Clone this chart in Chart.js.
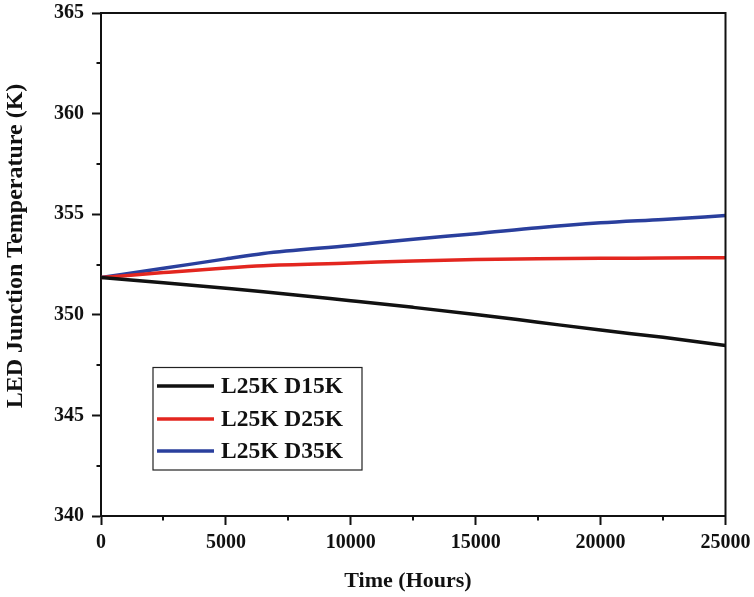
<!DOCTYPE html>
<html><head><meta charset="utf-8">
<script src="https://cdn.jsdelivr.net/npm/chart.js@4.4.0/dist/chart.umd.min.js"></script>
<style>html,body{margin:0;padding:0;background:#fff;}#wrap{width:754px;height:597px;position:relative}</style>
</head><body><div id="wrap"><canvas id="c" width="754" height="597"></canvas></div>
<script>
const hours = [0, 2500, 5000, 6500, 10000, 12500, 15000, 17500, 20000, 22500, 25000];
const seriesNames = ['L25K D15K', 'L25K D25K', 'L25K D35K'];
const d15 = [351.85, 351.59, 351.32, 351.15, 350.70, 350.37, 350.02, 349.63, 349.24, 348.88, 348.47];
const d25 = [351.85, 352.10, 352.33, 352.44, 352.57, 352.68, 352.75, 352.79, 352.81, 352.82, 352.84];
const d35 = [351.85, 352.31, 352.78, 353.05, 353.45, 353.76, 354.03, 354.33, 354.57, 354.74, 354.93];
const xTicks = [0, 5000, 10000, 15000, 20000, 25000];
const yTicks = [340, 345, 350, 355, 360, 365];
const xMinor = [2500, 7500, 12500, 17500, 22500];
const yMinor = [342.5, 347.5, 352.5, 357.5, 362.5];
const xTitle = 'Time (Hours)';
const yTitle = 'LED Junction Temperature (K)';
const colors = ['#111111', '#e3261f', '#2a3f9d'];

const FONT = '"Liberation Serif", "Times New Roman", serif';
const seriesData = [d15, d25, d35];

const decorPlugin = {
  id: 'decor',
  afterDraw(chart) {
    const ctx = chart.ctx;
    const a = chart.chartArea;
    const xs = chart.scales.x, ys = chart.scales.y;
    ctx.save();
    ctx.strokeStyle = '#111';
    ctx.lineWidth = 2;
    ctx.beginPath();
    ctx.moveTo(a.left - 1, a.top); ctx.lineTo(a.right, a.top); ctx.lineTo(a.right, a.bottom + 1);
    ctx.stroke();
    ctx.beginPath();
    xMinor.forEach(v => { const p = Math.round(xs.getPixelForValue(v)); ctx.moveTo(p, a.bottom); ctx.lineTo(p, a.bottom + 4.5); });
    yMinor.forEach(v => { const p = Math.round(ys.getPixelForValue(v)); ctx.moveTo(a.left, p); ctx.lineTo(a.left - 4.5, p); });
    ctx.stroke();
    ctx.fillStyle = '#111';
    ctx.textAlign = 'center';
    ctx.textBaseline = 'middle';
    ctx.font = 'bold 22px ' + FONT;
    ctx.fillText(xTitle, 408, 581);
    ctx.save();
    ctx.font = 'bold 24px ' + FONT;
    ctx.translate(16, 246);
    ctx.rotate(-Math.PI / 2);
    ctx.fillText(yTitle, 0, 0);
    ctx.restore();
    const bx = 153, by = 367.5, bw = 209, bh = 102.5;
    ctx.lineWidth = 1.2;
    ctx.strokeStyle = '#222';
    ctx.strokeRect(bx, by, bw, bh);
    ctx.textAlign = 'left';
    ctx.font = 'bold 23.5px ' + FONT;
    const rows = [386, 419, 451];
    chart.data.datasets.forEach((ds, i) => {
      ctx.strokeStyle = ds.borderColor;
      ctx.lineWidth = 3.5;
      ctx.beginPath();
      ctx.moveTo(157, rows[i]); ctx.lineTo(214, rows[i]);
      ctx.stroke();
      ctx.fillStyle = '#111';
      ctx.fillText(ds.label, 221, rows[i] + 1);
    });
    ctx.restore();
  }
};

new Chart(document.getElementById('c'), {
  type: 'line',
  data: {
    datasets: seriesNames.map((name, i) => ({
      label: name,
      data: hours.map((h, j) => ({ x: h, y: seriesData[i][j] })),
      borderColor: colors[i],
      backgroundColor: colors[i],
      borderWidth: 3.5,
      pointRadius: 0,
      cubicInterpolationMode: 'monotone',
      fill: false
    }))
  },
  options: {
    responsive: false,
    animation: false,
    devicePixelRatio: 1,
    layout: { padding: { top: 13, right: 28.5, left: 0, bottom: 0 } },
    plugins: { legend: { display: false }, tooltip: { enabled: false } },
    scales: {
      x: {
        type: 'linear', min: 0, max: 25000,
        afterBuildTicks: s => { s.ticks = xTicks.map(v => ({ value: v })); },
        afterFit: s => { s.height = 81; s.paddingLeft = 0; s.paddingRight = 0; },
        ticks: { color: '#111', font: { family: FONT, size: 20, weight: 'bold' }, padding: 6, maxRotation: 0, autoSkip: false, callback: v => String(v) },
        grid: { drawOnChartArea: false, drawTicks: true, tickLength: 9, tickWidth: 2, tickColor: '#111' },
        border: { display: true, width: 2, color: '#111' },
        title: { display: false }
      },
      y: {
        type: 'linear', min: 340, max: 365,
        afterBuildTicks: s => { s.ticks = yTicks.map(v => ({ value: v })); },
        afterFit: s => { s.width = 101; s.paddingTop = 0; s.paddingBottom = 0; },
        ticks: { color: '#111', font: { family: FONT, size: 20, weight: 'bold' }, padding: 8, autoSkip: false, callback: v => String(v) },
        grid: { drawOnChartArea: false, drawTicks: true, tickLength: 9, tickWidth: 2, tickColor: '#111' },
        border: { display: true, width: 2, color: '#111' },
        title: { display: false }
      }
    }
  },
  plugins: [decorPlugin]
});
</script></body></html>
